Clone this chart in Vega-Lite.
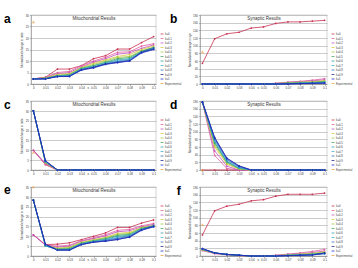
{
"$schema":"https://vega.github.io/schema/vega-lite/v6.json",
"background":"white",
"padding":{"left":4,"top":12,"right":0,"bottom":0},
"resolve":{"scale":{"color":"independent"},"legend":{"color":"independent"}},
"config":{
 "font":"Liberation Sans",
 "view":{"stroke":"#aaa","strokeWidth":0.5},
 "axis":{"labelFontSize":3,"titleFontSize":3,"tickSize":1.5,"tickWidth":0.5,"domainWidth":0.5,"domainColor":"#777","tickColor":"#777","labelColor":"#444","titleColor":"#444","gridColor":"#999","gridWidth":0.5,"labelPadding":1,"titlePadding":1.5,"titleFontWeight":"normal"},
 "axisX":{"grid":false,"labelAngle":0},
 "legend":{"labelFontSize":2.8,"symbolSize":8,"symbolType":"stroke","symbolStrokeWidth":0.8,"rowPadding":0.5,"labelOffset":1,"padding":0,"offset":3,"labelColor":"#444","orient":"none","legendX":129,"legendY":17},
 "title":{"font":"Liberation Sans"}
},
"datasets":{
"a":[
{"s":"k=0","x":0,"y":2.2},{"s":"k=0","x":0.01,"y":2.9},{"s":"k=0","x":0.02,"y":6.5},{"s":"k=0","x":0.03,"y":6.5},{"s":"k=0","x":0.04,"y":8},{"s":"k=0","x":0.05,"y":11},{"s":"k=0","x":0.06,"y":12.3},{"s":"k=0","x":0.07,"y":15.2},{"s":"k=0","x":0.08,"y":15.2},{"s":"k=0","x":0.09,"y":18},{"s":"k=0","x":0.1,"y":20.6},
{"s":"k=0.1","x":0,"y":2.2},{"s":"k=0.1","x":0.01,"y":2.9},{"s":"k=0.1","x":0.02,"y":5},{"s":"k=0.1","x":0.03,"y":5.5},{"s":"k=0.1","x":0.04,"y":8},{"s":"k=0.1","x":0.05,"y":10},{"s":"k=0.1","x":0.06,"y":11.6},{"s":"k=0.1","x":0.07,"y":13.8},{"s":"k=0.1","x":0.08,"y":14},{"s":"k=0.1","x":0.09,"y":16.5},{"s":"k=0.1","x":0.1,"y":17.5},
{"s":"k=0.2","x":0,"y":2.2},{"s":"k=0.2","x":0.01,"y":2.8},{"s":"k=0.2","x":0.02,"y":4.5},{"s":"k=0.2","x":0.03,"y":5},{"s":"k=0.2","x":0.04,"y":7.5},{"s":"k=0.2","x":0.05,"y":9.5},{"s":"k=0.2","x":0.06,"y":11},{"s":"k=0.2","x":0.07,"y":13},{"s":"k=0.2","x":0.08,"y":13.5},{"s":"k=0.2","x":0.09,"y":15.5},{"s":"k=0.2","x":0.1,"y":17},
{"s":"k=0.3","x":0,"y":2.2},{"s":"k=0.3","x":0.01,"y":2.7},{"s":"k=0.3","x":0.02,"y":4.2},{"s":"k=0.3","x":0.03,"y":4.5},{"s":"k=0.3","x":0.04,"y":7.2},{"s":"k=0.3","x":0.05,"y":9},{"s":"k=0.3","x":0.06,"y":10.5},{"s":"k=0.3","x":0.07,"y":12},{"s":"k=0.3","x":0.08,"y":12.8},{"s":"k=0.3","x":0.09,"y":15},{"s":"k=0.3","x":0.1,"y":16.5},
{"s":"k=0.4","x":0,"y":2.2},{"s":"k=0.4","x":0.01,"y":2.6},{"s":"k=0.4","x":0.02,"y":3.8},{"s":"k=0.4","x":0.03,"y":4.2},{"s":"k=0.4","x":0.04,"y":7},{"s":"k=0.4","x":0.05,"y":8.5},{"s":"k=0.4","x":0.06,"y":10},{"s":"k=0.4","x":0.07,"y":11.5},{"s":"k=0.4","x":0.08,"y":12},{"s":"k=0.4","x":0.09,"y":14.5},{"s":"k=0.4","x":0.1,"y":16},
{"s":"k=0.5","x":0,"y":2.2},{"s":"k=0.5","x":0.01,"y":2.5},{"s":"k=0.5","x":0.02,"y":3.6},{"s":"k=0.5","x":0.03,"y":4},{"s":"k=0.5","x":0.04,"y":6.8},{"s":"k=0.5","x":0.05,"y":8},{"s":"k=0.5","x":0.06,"y":9.5},{"s":"k=0.5","x":0.07,"y":11},{"s":"k=0.5","x":0.08,"y":11.5},{"s":"k=0.5","x":0.09,"y":14.2},{"s":"k=0.5","x":0.1,"y":15.8},
{"s":"k=0.6","x":0,"y":2.2},{"s":"k=0.6","x":0.01,"y":2.4},{"s":"k=0.6","x":0.02,"y":3.5},{"s":"k=0.6","x":0.03,"y":3.8},{"s":"k=0.6","x":0.04,"y":6.6},{"s":"k=0.6","x":0.05,"y":7.8},{"s":"k=0.6","x":0.06,"y":9.2},{"s":"k=0.6","x":0.07,"y":10.5},{"s":"k=0.6","x":0.08,"y":11},{"s":"k=0.6","x":0.09,"y":14},{"s":"k=0.6","x":0.1,"y":15.5},
{"s":"k=0.7","x":0,"y":2.2},{"s":"k=0.7","x":0.01,"y":2.3},{"s":"k=0.7","x":0.02,"y":3.4},{"s":"k=0.7","x":0.03,"y":3.6},{"s":"k=0.7","x":0.04,"y":6.5},{"s":"k=0.7","x":0.05,"y":7.5},{"s":"k=0.7","x":0.06,"y":9},{"s":"k=0.7","x":0.07,"y":10},{"s":"k=0.7","x":0.08,"y":10.8},{"s":"k=0.7","x":0.09,"y":13.8},{"s":"k=0.7","x":0.1,"y":15.3},
{"s":"k=0.8","x":0,"y":2.2},{"s":"k=0.8","x":0.01,"y":2.3},{"s":"k=0.8","x":0.02,"y":3.3},{"s":"k=0.8","x":0.03,"y":3.5},{"s":"k=0.8","x":0.04,"y":6.3},{"s":"k=0.8","x":0.05,"y":7.3},{"s":"k=0.8","x":0.06,"y":8.8},{"s":"k=0.8","x":0.07,"y":9.7},{"s":"k=0.8","x":0.08,"y":10.4},{"s":"k=0.8","x":0.09,"y":14},{"s":"k=0.8","x":0.1,"y":15.8},
{"s":"k=0.9","x":0,"y":2.2},{"s":"k=0.9","x":0.01,"y":2.2},{"s":"k=0.9","x":0.02,"y":3.3},{"s":"k=0.9","x":0.03,"y":3.3},{"s":"k=0.9","x":0.04,"y":6.2},{"s":"k=0.9","x":0.05,"y":7.2},{"s":"k=0.9","x":0.06,"y":8.7},{"s":"k=0.9","x":0.07,"y":9.4},{"s":"k=0.9","x":0.08,"y":10.1},{"s":"k=0.9","x":0.09,"y":13.8},{"s":"k=0.9","x":0.1,"y":15.2},
{"s":"k=1","x":0,"y":2.2},{"s":"k=1","x":0.01,"y":2.2},{"s":"k=1","x":0.02,"y":3.2},{"s":"k=1","x":0.03,"y":3.3},{"s":"k=1","x":0.04,"y":6},{"s":"k=1","x":0.05,"y":7},{"s":"k=1","x":0.06,"y":8.5},{"s":"k=1","x":0.07,"y":9.3},{"s":"k=1","x":0.08,"y":10},{"s":"k=1","x":0.09,"y":13.5},{"s":"k=1","x":0.1,"y":15},
{"s":"Experimental","x":0,"y":27}
],
"b":[
{"s":"k=0","x":0,"y":54},{"s":"k=0","x":0.01,"y":118},{"s":"k=0","x":0.02,"y":131},{"s":"k=0","x":0.03,"y":135},{"s":"k=0","x":0.04,"y":146},{"s":"k=0","x":0.05,"y":149},{"s":"k=0","x":0.06,"y":158},{"s":"k=0","x":0.07,"y":162},{"s":"k=0","x":0.08,"y":162},{"s":"k=0","x":0.09,"y":164},{"s":"k=0","x":0.1,"y":166},
{"s":"k=0.1","x":0,"y":0},{"s":"k=0.1","x":0.01,"y":0},{"s":"k=0.1","x":0.02,"y":0},{"s":"k=0.1","x":0.03,"y":0},{"s":"k=0.1","x":0.04,"y":0},{"s":"k=0.1","x":0.05,"y":0},{"s":"k=0.1","x":0.06,"y":2},{"s":"k=0.1","x":0.07,"y":5},{"s":"k=0.1","x":0.08,"y":7},{"s":"k=0.1","x":0.09,"y":10},{"s":"k=0.1","x":0.1,"y":14},
{"s":"k=0.2","x":0,"y":0},{"s":"k=0.2","x":0.01,"y":0},{"s":"k=0.2","x":0.02,"y":0},{"s":"k=0.2","x":0.03,"y":0},{"s":"k=0.2","x":0.04,"y":0},{"s":"k=0.2","x":0.05,"y":0},{"s":"k=0.2","x":0.06,"y":1.5},{"s":"k=0.2","x":0.07,"y":4},{"s":"k=0.2","x":0.08,"y":6},{"s":"k=0.2","x":0.09,"y":8},{"s":"k=0.2","x":0.1,"y":11},
{"s":"k=0.3","x":0,"y":0},{"s":"k=0.3","x":0.01,"y":0},{"s":"k=0.3","x":0.02,"y":0},{"s":"k=0.3","x":0.03,"y":0},{"s":"k=0.3","x":0.04,"y":0},{"s":"k=0.3","x":0.05,"y":0},{"s":"k=0.3","x":0.06,"y":1},{"s":"k=0.3","x":0.07,"y":3},{"s":"k=0.3","x":0.08,"y":5},{"s":"k=0.3","x":0.09,"y":6},{"s":"k=0.3","x":0.1,"y":9},
{"s":"k=0.4","x":0,"y":0},{"s":"k=0.4","x":0.01,"y":0},{"s":"k=0.4","x":0.02,"y":0},{"s":"k=0.4","x":0.03,"y":0},{"s":"k=0.4","x":0.04,"y":0},{"s":"k=0.4","x":0.05,"y":0},{"s":"k=0.4","x":0.06,"y":1},{"s":"k=0.4","x":0.07,"y":2.5},{"s":"k=0.4","x":0.08,"y":4},{"s":"k=0.4","x":0.09,"y":5},{"s":"k=0.4","x":0.1,"y":7},
{"s":"k=0.5","x":0,"y":0},{"s":"k=0.5","x":0.01,"y":0},{"s":"k=0.5","x":0.02,"y":0},{"s":"k=0.5","x":0.03,"y":0},{"s":"k=0.5","x":0.04,"y":0},{"s":"k=0.5","x":0.05,"y":0},{"s":"k=0.5","x":0.06,"y":0.5},{"s":"k=0.5","x":0.07,"y":2},{"s":"k=0.5","x":0.08,"y":3},{"s":"k=0.5","x":0.09,"y":4},{"s":"k=0.5","x":0.1,"y":6},
{"s":"k=0.6","x":0,"y":0},{"s":"k=0.6","x":0.01,"y":0},{"s":"k=0.6","x":0.02,"y":0},{"s":"k=0.6","x":0.03,"y":0},{"s":"k=0.6","x":0.04,"y":0},{"s":"k=0.6","x":0.05,"y":0},{"s":"k=0.6","x":0.06,"y":0.5},{"s":"k=0.6","x":0.07,"y":1.5},{"s":"k=0.6","x":0.08,"y":2.5},{"s":"k=0.6","x":0.09,"y":3.5},{"s":"k=0.6","x":0.1,"y":5},
{"s":"k=0.7","x":0,"y":0},{"s":"k=0.7","x":0.01,"y":0},{"s":"k=0.7","x":0.02,"y":0},{"s":"k=0.7","x":0.03,"y":0},{"s":"k=0.7","x":0.04,"y":0},{"s":"k=0.7","x":0.05,"y":0},{"s":"k=0.7","x":0.06,"y":0},{"s":"k=0.7","x":0.07,"y":1},{"s":"k=0.7","x":0.08,"y":2},{"s":"k=0.7","x":0.09,"y":3},{"s":"k=0.7","x":0.1,"y":4},
{"s":"k=0.8","x":0,"y":0},{"s":"k=0.8","x":0.01,"y":0},{"s":"k=0.8","x":0.02,"y":0},{"s":"k=0.8","x":0.03,"y":0},{"s":"k=0.8","x":0.04,"y":0},{"s":"k=0.8","x":0.05,"y":0},{"s":"k=0.8","x":0.06,"y":0},{"s":"k=0.8","x":0.07,"y":0.5},{"s":"k=0.8","x":0.08,"y":1.5},{"s":"k=0.8","x":0.09,"y":2},{"s":"k=0.8","x":0.1,"y":3},
{"s":"k=0.9","x":0,"y":0},{"s":"k=0.9","x":0.01,"y":0},{"s":"k=0.9","x":0.02,"y":0},{"s":"k=0.9","x":0.03,"y":0},{"s":"k=0.9","x":0.04,"y":0},{"s":"k=0.9","x":0.05,"y":0},{"s":"k=0.9","x":0.06,"y":0},{"s":"k=0.9","x":0.07,"y":0.5},{"s":"k=0.9","x":0.08,"y":1},{"s":"k=0.9","x":0.09,"y":2},{"s":"k=0.9","x":0.1,"y":2.5},
{"s":"k=1","x":0,"y":0},{"s":"k=1","x":0.01,"y":0},{"s":"k=1","x":0.02,"y":0},{"s":"k=1","x":0.03,"y":0},{"s":"k=1","x":0.04,"y":0},{"s":"k=1","x":0.05,"y":0},{"s":"k=1","x":0.06,"y":0},{"s":"k=1","x":0.07,"y":0},{"s":"k=1","x":0.08,"y":1},{"s":"k=1","x":0.09,"y":1.5},{"s":"k=1","x":0.1,"y":2},
{"s":"Experimental","x":0,"y":84}
],
"c":[
{"s":"k=0","x":0,"y":10},{"s":"k=0","x":0.01,"y":2.7},{"s":"k=0","x":0.02,"y":0},{"s":"k=0","x":0.03,"y":0},{"s":"k=0","x":0.04,"y":0},{"s":"k=0","x":0.05,"y":0},{"s":"k=0","x":0.06,"y":0},{"s":"k=0","x":0.07,"y":0},{"s":"k=0","x":0.08,"y":0},{"s":"k=0","x":0.09,"y":0},{"s":"k=0","x":0.1,"y":0},
{"s":"k=0.1","x":0,"y":10},{"s":"k=0.1","x":0.01,"y":3},{"s":"k=0.1","x":0.02,"y":0},{"s":"k=0.1","x":0.03,"y":0},{"s":"k=0.1","x":0.04,"y":0},{"s":"k=0.1","x":0.05,"y":0},{"s":"k=0.1","x":0.06,"y":0},{"s":"k=0.1","x":0.07,"y":0},{"s":"k=0.1","x":0.08,"y":0},{"s":"k=0.1","x":0.09,"y":0},{"s":"k=0.1","x":0.1,"y":0},
{"s":"k=0.2","x":0,"y":10},{"s":"k=0.2","x":0.01,"y":3.3},{"s":"k=0.2","x":0.02,"y":0},{"s":"k=0.2","x":0.03,"y":0},{"s":"k=0.2","x":0.04,"y":0},{"s":"k=0.2","x":0.05,"y":0},{"s":"k=0.2","x":0.06,"y":0},{"s":"k=0.2","x":0.07,"y":0},{"s":"k=0.2","x":0.08,"y":0},{"s":"k=0.2","x":0.09,"y":0},{"s":"k=0.2","x":0.1,"y":0},
{"s":"k=0.3","x":0,"y":30},{"s":"k=0.3","x":0.01,"y":3.6},{"s":"k=0.3","x":0.02,"y":0},{"s":"k=0.3","x":0.03,"y":0},{"s":"k=0.3","x":0.04,"y":0},{"s":"k=0.3","x":0.05,"y":0},{"s":"k=0.3","x":0.06,"y":0},{"s":"k=0.3","x":0.07,"y":0},{"s":"k=0.3","x":0.08,"y":0},{"s":"k=0.3","x":0.09,"y":0},{"s":"k=0.3","x":0.1,"y":0},
{"s":"k=0.4","x":0,"y":30},{"s":"k=0.4","x":0.01,"y":3.8},{"s":"k=0.4","x":0.02,"y":0},{"s":"k=0.4","x":0.03,"y":0},{"s":"k=0.4","x":0.04,"y":0},{"s":"k=0.4","x":0.05,"y":0},{"s":"k=0.4","x":0.06,"y":0},{"s":"k=0.4","x":0.07,"y":0},{"s":"k=0.4","x":0.08,"y":0},{"s":"k=0.4","x":0.09,"y":0},{"s":"k=0.4","x":0.1,"y":0},
{"s":"k=0.5","x":0,"y":30},{"s":"k=0.5","x":0.01,"y":4},{"s":"k=0.5","x":0.02,"y":0},{"s":"k=0.5","x":0.03,"y":0},{"s":"k=0.5","x":0.04,"y":0},{"s":"k=0.5","x":0.05,"y":0},{"s":"k=0.5","x":0.06,"y":0},{"s":"k=0.5","x":0.07,"y":0},{"s":"k=0.5","x":0.08,"y":0},{"s":"k=0.5","x":0.09,"y":0},{"s":"k=0.5","x":0.1,"y":0},
{"s":"k=0.6","x":0,"y":30},{"s":"k=0.6","x":0.01,"y":4.1},{"s":"k=0.6","x":0.02,"y":0},{"s":"k=0.6","x":0.03,"y":0},{"s":"k=0.6","x":0.04,"y":0},{"s":"k=0.6","x":0.05,"y":0},{"s":"k=0.6","x":0.06,"y":0},{"s":"k=0.6","x":0.07,"y":0},{"s":"k=0.6","x":0.08,"y":0},{"s":"k=0.6","x":0.09,"y":0},{"s":"k=0.6","x":0.1,"y":0},
{"s":"k=0.7","x":0,"y":30},{"s":"k=0.7","x":0.01,"y":4.3},{"s":"k=0.7","x":0.02,"y":0},{"s":"k=0.7","x":0.03,"y":0},{"s":"k=0.7","x":0.04,"y":0},{"s":"k=0.7","x":0.05,"y":0},{"s":"k=0.7","x":0.06,"y":0},{"s":"k=0.7","x":0.07,"y":0},{"s":"k=0.7","x":0.08,"y":0},{"s":"k=0.7","x":0.09,"y":0},{"s":"k=0.7","x":0.1,"y":0},
{"s":"k=0.8","x":0,"y":30},{"s":"k=0.8","x":0.01,"y":4.5},{"s":"k=0.8","x":0.02,"y":0},{"s":"k=0.8","x":0.03,"y":0},{"s":"k=0.8","x":0.04,"y":0},{"s":"k=0.8","x":0.05,"y":0},{"s":"k=0.8","x":0.06,"y":0},{"s":"k=0.8","x":0.07,"y":0},{"s":"k=0.8","x":0.08,"y":0},{"s":"k=0.8","x":0.09,"y":0},{"s":"k=0.8","x":0.1,"y":0},
{"s":"k=0.9","x":0,"y":30},{"s":"k=0.9","x":0.01,"y":4.7},{"s":"k=0.9","x":0.02,"y":0},{"s":"k=0.9","x":0.03,"y":0},{"s":"k=0.9","x":0.04,"y":0},{"s":"k=0.9","x":0.05,"y":0},{"s":"k=0.9","x":0.06,"y":0},{"s":"k=0.9","x":0.07,"y":0},{"s":"k=0.9","x":0.08,"y":0},{"s":"k=0.9","x":0.09,"y":0},{"s":"k=0.9","x":0.1,"y":0},
{"s":"k=1","x":0,"y":30},{"s":"k=1","x":0.01,"y":4.6},{"s":"k=1","x":0.02,"y":0},{"s":"k=1","x":0.03,"y":0},{"s":"k=1","x":0.04,"y":0},{"s":"k=1","x":0.05,"y":0},{"s":"k=1","x":0.06,"y":0},{"s":"k=1","x":0.07,"y":0},{"s":"k=1","x":0.08,"y":0},{"s":"k=1","x":0.09,"y":0},{"s":"k=1","x":0.1,"y":0},
{"s":"Experimental","x":0,"y":9}
],
"d":[
{"s":"k=0","x":0,"y":0},{"s":"k=0","x":0.01,"y":0},{"s":"k=0","x":0.02,"y":0},{"s":"k=0","x":0.03,"y":0},{"s":"k=0","x":0.04,"y":0},{"s":"k=0","x":0.05,"y":0},{"s":"k=0","x":0.06,"y":0},{"s":"k=0","x":0.07,"y":0},{"s":"k=0","x":0.08,"y":0},{"s":"k=0","x":0.09,"y":0},{"s":"k=0","x":0.1,"y":0},
{"s":"k=0.1","x":0,"y":177},{"s":"k=0.1","x":0.01,"y":38},{"s":"k=0.1","x":0.02,"y":4},{"s":"k=0.1","x":0.03,"y":0},{"s":"k=0.1","x":0.04,"y":0},{"s":"k=0.1","x":0.05,"y":0},{"s":"k=0.1","x":0.06,"y":0},{"s":"k=0.1","x":0.07,"y":0},{"s":"k=0.1","x":0.08,"y":0},{"s":"k=0.1","x":0.09,"y":0},{"s":"k=0.1","x":0.1,"y":0},
{"s":"k=0.2","x":0,"y":177},{"s":"k=0.2","x":0.01,"y":50},{"s":"k=0.2","x":0.02,"y":10},{"s":"k=0.2","x":0.03,"y":0},{"s":"k=0.2","x":0.04,"y":0},{"s":"k=0.2","x":0.05,"y":0},{"s":"k=0.2","x":0.06,"y":0},{"s":"k=0.2","x":0.07,"y":0},{"s":"k=0.2","x":0.08,"y":0},{"s":"k=0.2","x":0.09,"y":0},{"s":"k=0.2","x":0.1,"y":0},
{"s":"k=0.3","x":0,"y":177},{"s":"k=0.3","x":0.01,"y":60},{"s":"k=0.3","x":0.02,"y":15},{"s":"k=0.3","x":0.03,"y":2},{"s":"k=0.3","x":0.04,"y":0},{"s":"k=0.3","x":0.05,"y":0},{"s":"k=0.3","x":0.06,"y":0},{"s":"k=0.3","x":0.07,"y":0},{"s":"k=0.3","x":0.08,"y":0},{"s":"k=0.3","x":0.09,"y":0},{"s":"k=0.3","x":0.1,"y":0},
{"s":"k=0.4","x":0,"y":177},{"s":"k=0.4","x":0.01,"y":65},{"s":"k=0.4","x":0.02,"y":18},{"s":"k=0.4","x":0.03,"y":3},{"s":"k=0.4","x":0.04,"y":0},{"s":"k=0.4","x":0.05,"y":0},{"s":"k=0.4","x":0.06,"y":0},{"s":"k=0.4","x":0.07,"y":0},{"s":"k=0.4","x":0.08,"y":0},{"s":"k=0.4","x":0.09,"y":0},{"s":"k=0.4","x":0.1,"y":0},
{"s":"k=0.5","x":0,"y":177},{"s":"k=0.5","x":0.01,"y":70},{"s":"k=0.5","x":0.02,"y":20},{"s":"k=0.5","x":0.03,"y":4},{"s":"k=0.5","x":0.04,"y":0},{"s":"k=0.5","x":0.05,"y":0},{"s":"k=0.5","x":0.06,"y":0},{"s":"k=0.5","x":0.07,"y":0},{"s":"k=0.5","x":0.08,"y":0},{"s":"k=0.5","x":0.09,"y":0},{"s":"k=0.5","x":0.1,"y":0},
{"s":"k=0.6","x":0,"y":177},{"s":"k=0.6","x":0.01,"y":73},{"s":"k=0.6","x":0.02,"y":22},{"s":"k=0.6","x":0.03,"y":5},{"s":"k=0.6","x":0.04,"y":0},{"s":"k=0.6","x":0.05,"y":0},{"s":"k=0.6","x":0.06,"y":0},{"s":"k=0.6","x":0.07,"y":0},{"s":"k=0.6","x":0.08,"y":0},{"s":"k=0.6","x":0.09,"y":0},{"s":"k=0.6","x":0.1,"y":0},
{"s":"k=0.7","x":0,"y":177},{"s":"k=0.7","x":0.01,"y":76},{"s":"k=0.7","x":0.02,"y":24},{"s":"k=0.7","x":0.03,"y":6},{"s":"k=0.7","x":0.04,"y":0},{"s":"k=0.7","x":0.05,"y":0},{"s":"k=0.7","x":0.06,"y":0},{"s":"k=0.7","x":0.07,"y":0},{"s":"k=0.7","x":0.08,"y":0},{"s":"k=0.7","x":0.09,"y":0},{"s":"k=0.7","x":0.1,"y":0},
{"s":"k=0.8","x":0,"y":177},{"s":"k=0.8","x":0.01,"y":80},{"s":"k=0.8","x":0.02,"y":27},{"s":"k=0.8","x":0.03,"y":8},{"s":"k=0.8","x":0.04,"y":0},{"s":"k=0.8","x":0.05,"y":0},{"s":"k=0.8","x":0.06,"y":0},{"s":"k=0.8","x":0.07,"y":0},{"s":"k=0.8","x":0.08,"y":0},{"s":"k=0.8","x":0.09,"y":0},{"s":"k=0.8","x":0.1,"y":0},
{"s":"k=0.9","x":0,"y":177},{"s":"k=0.9","x":0.01,"y":85},{"s":"k=0.9","x":0.02,"y":31},{"s":"k=0.9","x":0.03,"y":11},{"s":"k=0.9","x":0.04,"y":0},{"s":"k=0.9","x":0.05,"y":0},{"s":"k=0.9","x":0.06,"y":0},{"s":"k=0.9","x":0.07,"y":0},{"s":"k=0.9","x":0.08,"y":0},{"s":"k=0.9","x":0.09,"y":0},{"s":"k=0.9","x":0.1,"y":0},
{"s":"k=1","x":0,"y":177},{"s":"k=1","x":0.01,"y":83},{"s":"k=1","x":0.02,"y":30},{"s":"k=1","x":0.03,"y":10},{"s":"k=1","x":0.04,"y":0},{"s":"k=1","x":0.05,"y":0},{"s":"k=1","x":0.06,"y":0},{"s":"k=1","x":0.07,"y":0},{"s":"k=1","x":0.08,"y":0},{"s":"k=1","x":0.09,"y":0},{"s":"k=1","x":0.1,"y":0},
{"s":"Experimental","x":0,"y":0}
],
"e":[
{"s":"k=0","x":0,"y":10.7},{"s":"k=0","x":0.01,"y":5.8},{"s":"k=0","x":0.02,"y":6},{"s":"k=0","x":0.03,"y":6.7},{"s":"k=0","x":0.04,"y":8.3},{"s":"k=0","x":0.05,"y":10},{"s":"k=0","x":0.06,"y":11.7},{"s":"k=0","x":0.07,"y":14.5},{"s":"k=0","x":0.08,"y":14.5},{"s":"k=0","x":0.09,"y":16.7},{"s":"k=0","x":0.1,"y":18.3},
{"s":"k=0.1","x":0,"y":10.7},{"s":"k=0.1","x":0.01,"y":5.6},{"s":"k=0.1","x":0.02,"y":5},{"s":"k=0.1","x":0.03,"y":5.5},{"s":"k=0.1","x":0.04,"y":7.8},{"s":"k=0.1","x":0.05,"y":9.2},{"s":"k=0.1","x":0.06,"y":10.8},{"s":"k=0.1","x":0.07,"y":13},{"s":"k=0.1","x":0.08,"y":13.5},{"s":"k=0.1","x":0.09,"y":15.3},{"s":"k=0.1","x":0.1,"y":16.5},
{"s":"k=0.2","x":0,"y":10.7},{"s":"k=0.2","x":0.01,"y":5.5},{"s":"k=0.2","x":0.02,"y":4.5},{"s":"k=0.2","x":0.03,"y":5},{"s":"k=0.2","x":0.04,"y":7.5},{"s":"k=0.2","x":0.05,"y":8.8},{"s":"k=0.2","x":0.06,"y":10.2},{"s":"k=0.2","x":0.07,"y":12.3},{"s":"k=0.2","x":0.08,"y":12.8},{"s":"k=0.2","x":0.09,"y":14.8},{"s":"k=0.2","x":0.1,"y":16},
{"s":"k=0.3","x":0,"y":28.3},{"s":"k=0.3","x":0.01,"y":5.4},{"s":"k=0.3","x":0.02,"y":4},{"s":"k=0.3","x":0.03,"y":4.5},{"s":"k=0.3","x":0.04,"y":7},{"s":"k=0.3","x":0.05,"y":8.3},{"s":"k=0.3","x":0.06,"y":9.5},{"s":"k=0.3","x":0.07,"y":11.5},{"s":"k=0.3","x":0.08,"y":12},{"s":"k=0.3","x":0.09,"y":14.5},{"s":"k=0.3","x":0.1,"y":15.5},
{"s":"k=0.4","x":0,"y":28.3},{"s":"k=0.4","x":0.01,"y":5.3},{"s":"k=0.4","x":0.02,"y":3.7},{"s":"k=0.4","x":0.03,"y":4.2},{"s":"k=0.4","x":0.04,"y":6.7},{"s":"k=0.4","x":0.05,"y":8},{"s":"k=0.4","x":0.06,"y":9.2},{"s":"k=0.4","x":0.07,"y":11},{"s":"k=0.4","x":0.08,"y":11.5},{"s":"k=0.4","x":0.09,"y":14.2},{"s":"k=0.4","x":0.1,"y":15.3},
{"s":"k=0.5","x":0,"y":28.3},{"s":"k=0.5","x":0.01,"y":5.2},{"s":"k=0.5","x":0.02,"y":3.5},{"s":"k=0.5","x":0.03,"y":3.8},{"s":"k=0.5","x":0.04,"y":6.5},{"s":"k=0.5","x":0.05,"y":7.7},{"s":"k=0.5","x":0.06,"y":8.8},{"s":"k=0.5","x":0.07,"y":10.5},{"s":"k=0.5","x":0.08,"y":11},{"s":"k=0.5","x":0.09,"y":14},{"s":"k=0.5","x":0.1,"y":15.2},
{"s":"k=0.6","x":0,"y":28.3},{"s":"k=0.6","x":0.01,"y":5.2},{"s":"k=0.6","x":0.02,"y":3.3},{"s":"k=0.6","x":0.03,"y":3.5},{"s":"k=0.6","x":0.04,"y":6.3},{"s":"k=0.6","x":0.05,"y":7.5},{"s":"k=0.6","x":0.06,"y":8.5},{"s":"k=0.6","x":0.07,"y":10},{"s":"k=0.6","x":0.08,"y":10.6},{"s":"k=0.6","x":0.09,"y":13.8},{"s":"k=0.6","x":0.1,"y":15},
{"s":"k=0.7","x":0,"y":28.3},{"s":"k=0.7","x":0.01,"y":5.1},{"s":"k=0.7","x":0.02,"y":3.2},{"s":"k=0.7","x":0.03,"y":3.3},{"s":"k=0.7","x":0.04,"y":6.1},{"s":"k=0.7","x":0.05,"y":7.3},{"s":"k=0.7","x":0.06,"y":8.2},{"s":"k=0.7","x":0.07,"y":9.5},{"s":"k=0.7","x":0.08,"y":10.3},{"s":"k=0.7","x":0.09,"y":13.6},{"s":"k=0.7","x":0.1,"y":15},
{"s":"k=0.8","x":0,"y":28.3},{"s":"k=0.8","x":0.01,"y":5.5},{"s":"k=0.8","x":0.02,"y":3.1},{"s":"k=0.8","x":0.03,"y":3.1},{"s":"k=0.8","x":0.04,"y":6},{"s":"k=0.8","x":0.05,"y":7.1},{"s":"k=0.8","x":0.06,"y":8},{"s":"k=0.8","x":0.07,"y":9},{"s":"k=0.8","x":0.08,"y":10},{"s":"k=0.8","x":0.09,"y":13.4},{"s":"k=0.8","x":0.1,"y":15.5},
{"s":"k=0.9","x":0,"y":28.3},{"s":"k=0.9","x":0.01,"y":6},{"s":"k=0.9","x":0.02,"y":3},{"s":"k=0.9","x":0.03,"y":3},{"s":"k=0.9","x":0.04,"y":5.8},{"s":"k=0.9","x":0.05,"y":7},{"s":"k=0.9","x":0.06,"y":7.5},{"s":"k=0.9","x":0.07,"y":8.3},{"s":"k=0.9","x":0.08,"y":9.7},{"s":"k=0.9","x":0.09,"y":13.3},{"s":"k=0.9","x":0.1,"y":15},
{"s":"k=1","x":0,"y":28.3},{"s":"k=1","x":0.01,"y":5.8},{"s":"k=1","x":0.02,"y":3},{"s":"k=1","x":0.03,"y":3},{"s":"k=1","x":0.04,"y":5.8},{"s":"k=1","x":0.05,"y":7},{"s":"k=1","x":0.06,"y":7.6},{"s":"k=1","x":0.07,"y":8.5},{"s":"k=1","x":0.08,"y":9.5},{"s":"k=1","x":0.09,"y":13},{"s":"k=1","x":0.1,"y":14.8},
{"s":"Experimental","x":0,"y":35}
],
"f":[
{"s":"k=0","x":0,"y":55},{"s":"k=0","x":0.01,"y":118},{"s":"k=0","x":0.02,"y":130},{"s":"k=0","x":0.03,"y":135},{"s":"k=0","x":0.04,"y":144},{"s":"k=0","x":0.05,"y":147},{"s":"k=0","x":0.06,"y":156},{"s":"k=0","x":0.07,"y":161},{"s":"k=0","x":0.08,"y":161},{"s":"k=0","x":0.09,"y":161},{"s":"k=0","x":0.1,"y":164},
{"s":"k=0.1","x":0,"y":14},{"s":"k=0.1","x":0.01,"y":6},{"s":"k=0.1","x":0.02,"y":3},{"s":"k=0.1","x":0.03,"y":1},{"s":"k=0.1","x":0.04,"y":0},{"s":"k=0.1","x":0.05,"y":0},{"s":"k=0.1","x":0.06,"y":2},{"s":"k=0.1","x":0.07,"y":5},{"s":"k=0.1","x":0.08,"y":8},{"s":"k=0.1","x":0.09,"y":12},{"s":"k=0.1","x":0.1,"y":17},
{"s":"k=0.2","x":0,"y":15},{"s":"k=0.2","x":0.01,"y":7},{"s":"k=0.2","x":0.02,"y":3.5},{"s":"k=0.2","x":0.03,"y":1.2},{"s":"k=0.2","x":0.04,"y":0},{"s":"k=0.2","x":0.05,"y":0},{"s":"k=0.2","x":0.06,"y":1.5},{"s":"k=0.2","x":0.07,"y":4},{"s":"k=0.2","x":0.08,"y":6},{"s":"k=0.2","x":0.09,"y":9},{"s":"k=0.2","x":0.1,"y":13},
{"s":"k=0.3","x":0,"y":16},{"s":"k=0.3","x":0.01,"y":7.5},{"s":"k=0.3","x":0.02,"y":4},{"s":"k=0.3","x":0.03,"y":1.5},{"s":"k=0.3","x":0.04,"y":0},{"s":"k=0.3","x":0.05,"y":0},{"s":"k=0.3","x":0.06,"y":1},{"s":"k=0.3","x":0.07,"y":3},{"s":"k=0.3","x":0.08,"y":5},{"s":"k=0.3","x":0.09,"y":7},{"s":"k=0.3","x":0.1,"y":11},
{"s":"k=0.4","x":0,"y":16.5},{"s":"k=0.4","x":0.01,"y":7.5},{"s":"k=0.4","x":0.02,"y":4},{"s":"k=0.4","x":0.03,"y":1.5},{"s":"k=0.4","x":0.04,"y":0},{"s":"k=0.4","x":0.05,"y":0},{"s":"k=0.4","x":0.06,"y":1},{"s":"k=0.4","x":0.07,"y":2.5},{"s":"k=0.4","x":0.08,"y":4},{"s":"k=0.4","x":0.09,"y":6},{"s":"k=0.4","x":0.1,"y":9},
{"s":"k=0.5","x":0,"y":17},{"s":"k=0.5","x":0.01,"y":8},{"s":"k=0.5","x":0.02,"y":4},{"s":"k=0.5","x":0.03,"y":2},{"s":"k=0.5","x":0.04,"y":0},{"s":"k=0.5","x":0.05,"y":0},{"s":"k=0.5","x":0.06,"y":0.5},{"s":"k=0.5","x":0.07,"y":2},{"s":"k=0.5","x":0.08,"y":3},{"s":"k=0.5","x":0.09,"y":5},{"s":"k=0.5","x":0.1,"y":8},
{"s":"k=0.6","x":0,"y":17.5},{"s":"k=0.6","x":0.01,"y":8},{"s":"k=0.6","x":0.02,"y":4},{"s":"k=0.6","x":0.03,"y":2},{"s":"k=0.6","x":0.04,"y":0},{"s":"k=0.6","x":0.05,"y":0},{"s":"k=0.6","x":0.06,"y":0.5},{"s":"k=0.6","x":0.07,"y":1.5},{"s":"k=0.6","x":0.08,"y":3},{"s":"k=0.6","x":0.09,"y":4},{"s":"k=0.6","x":0.1,"y":7},
{"s":"k=0.7","x":0,"y":18},{"s":"k=0.7","x":0.01,"y":8},{"s":"k=0.7","x":0.02,"y":4},{"s":"k=0.7","x":0.03,"y":2},{"s":"k=0.7","x":0.04,"y":0},{"s":"k=0.7","x":0.05,"y":0},{"s":"k=0.7","x":0.06,"y":0.5},{"s":"k=0.7","x":0.07,"y":1.5},{"s":"k=0.7","x":0.08,"y":2.5},{"s":"k=0.7","x":0.09,"y":4},{"s":"k=0.7","x":0.1,"y":6},
{"s":"k=0.8","x":0,"y":18.5},{"s":"k=0.8","x":0.01,"y":8},{"s":"k=0.8","x":0.02,"y":4},{"s":"k=0.8","x":0.03,"y":2},{"s":"k=0.8","x":0.04,"y":0},{"s":"k=0.8","x":0.05,"y":0},{"s":"k=0.8","x":0.06,"y":0.3},{"s":"k=0.8","x":0.07,"y":1},{"s":"k=0.8","x":0.08,"y":2},{"s":"k=0.8","x":0.09,"y":3},{"s":"k=0.8","x":0.1,"y":6},
{"s":"k=0.9","x":0,"y":19},{"s":"k=0.9","x":0.01,"y":8},{"s":"k=0.9","x":0.02,"y":4},{"s":"k=0.9","x":0.03,"y":2},{"s":"k=0.9","x":0.04,"y":0},{"s":"k=0.9","x":0.05,"y":0},{"s":"k=0.9","x":0.06,"y":0},{"s":"k=0.9","x":0.07,"y":1},{"s":"k=0.9","x":0.08,"y":2},{"s":"k=0.9","x":0.09,"y":3},{"s":"k=0.9","x":0.1,"y":8},
{"s":"k=1","x":0,"y":19},{"s":"k=1","x":0.01,"y":8.5},{"s":"k=1","x":0.02,"y":4},{"s":"k=1","x":0.03,"y":2},{"s":"k=1","x":0.04,"y":0},{"s":"k=1","x":0.05,"y":0},{"s":"k=1","x":0.06,"y":0},{"s":"k=1","x":0.07,"y":1},{"s":"k=1","x":0.08,"y":1.5},{"s":"k=1","x":0.09,"y":2.5},{"s":"k=1","x":0.1,"y":7},
{"s":"Experimental","x":0,"y":82}
]
},
"columns":2,
"spacing":{"row":8,"column":-13},
"concat":[
 {"title":{"text":"a","orient":"left","angle":0,"anchor":"end","fontSize":12,"fontWeight":"bold","offset":3,"baseline":"top"},
  "resolve":{"scale":{"color":"independent"},"legend":{"color":"independent"}},
  "hconcat":[{"width":125,"height":69,"data":{"name":"a"},
   "encoding":{
    "y":{"field":"y","type":"quantitative","scale":{"domain":[0,30]},"axis":{"values":[0,5,10,15,20,25,30],"title":"Normalized change in mito"}},
    "color":{"field":"s","type":"nominal","scale":{"domain":["k=0","k=0.1","k=0.2","k=0.3","k=0.4","k=0.5","k=0.6","k=0.7","k=0.8","k=0.9","k=1","Experimental"],"range":["#c83050","#e060a0","#c050c0","#d8c840","#a0c840","#40a860","#30a0a0","#40b0d0","#3070c0","#202890","#2030c8","#f0a040"]},"legend":{"title":null}}},
   "resolve":{"axis":{"x":"independent"}},
   "layer":[
    {"transform":[{"filter":"datum.s!='Experimental'"}],"mark":{"type":"line","strokeWidth":0.8,"point":{"size":3,"filled":true}},
     "encoding":{"x":{"field":"x","type":"ordinal","scale":{"type":"point","padding":0.2},"axis":{"title":"ε","titleFontSize":4,"titlePadding":-4.5,"titleX":57}}}},
    {"transform":[{"filter":"datum.s=='Experimental'"}],"mark":{"type":"point","shape":"triangle-up","filled":true,"size":10},
     "encoding":{"x":{"field":"x","type":"ordinal","axis":{"orient":"top","title":"Mitochondrial Results","labels":false,"ticks":false,"domain":false,"titleFontSize":4.5,"titlePadding":-5.5,"titleColor":"#333"}}}}
   ]}]},
 {"title":{"text":"b","orient":"left","angle":0,"anchor":"end","fontSize":12,"fontWeight":"bold","offset":3,"baseline":"top"},
  "resolve":{"scale":{"color":"independent"},"legend":{"color":"independent"}},
  "hconcat":[{"width":127,"height":69,"data":{"name":"b"},
   "encoding":{
    "y":{"field":"y","type":"quantitative","scale":{"domain":[0,180]},"axis":{"values":[0,20,40,60,80,100,120,140,160,180],"title":"Normalized change in syn"}},
    "color":{"field":"s","type":"nominal","scale":{"domain":["k=0","k=0.1","k=0.2","k=0.3","k=0.4","k=0.5","k=0.6","k=0.7","k=0.8","k=0.9","k=1","Experimental"],"range":["#c83050","#e060a0","#c050c0","#d8c840","#a0c840","#40a860","#30a0a0","#40b0d0","#3070c0","#202890","#2030c8","#f0a040"]},"legend":{"title":null,"legendX":131}}},
   "resolve":{"axis":{"x":"independent"}},
   "layer":[
    {"transform":[{"filter":"datum.s!='Experimental'"}],"mark":{"type":"line","strokeWidth":0.8,"point":{"size":3,"filled":true}},
     "encoding":{"x":{"field":"x","type":"ordinal","scale":{"type":"point","padding":0.2},"axis":{"title":"ε","titleFontSize":4,"titlePadding":-4.5,"titleX":58}}}},
    {"transform":[{"filter":"datum.s=='Experimental'"}],"mark":{"type":"point","shape":"triangle-up","filled":true,"size":10},
     "encoding":{"x":{"field":"x","type":"ordinal","axis":{"orient":"top","title":"Synaptic Results","labels":false,"ticks":false,"domain":false,"titleFontSize":4.5,"titlePadding":-5.5,"titleColor":"#333"}}}}
   ]}]},
 {"title":{"text":"c","orient":"left","angle":0,"anchor":"end","fontSize":12,"fontWeight":"bold","offset":3,"baseline":"top"},
  "resolve":{"scale":{"color":"independent"},"legend":{"color":"independent"}},
  "hconcat":[{"width":125,"height":69,"data":{"name":"c"},
   "encoding":{
    "y":{"field":"y","type":"quantitative","scale":{"domain":[0,35]},"axis":{"values":[0,5,10,15,20,25,30,35],"title":"Normalized change in mito"}},
    "color":{"field":"s","type":"nominal","scale":{"domain":["k=0","k=0.1","k=0.2","k=0.3","k=0.4","k=0.5","k=0.6","k=0.7","k=0.8","k=0.9","k=1","Experimental"],"range":["#c83050","#e060a0","#c050c0","#d8c840","#a0c840","#40a860","#30a0a0","#40b0d0","#3070c0","#202890","#2030c8","#f0a040"]},"legend":{"title":null}}},
   "resolve":{"axis":{"x":"independent"}},
   "layer":[
    {"transform":[{"filter":"datum.s!='Experimental'"}],"mark":{"type":"line","strokeWidth":0.8,"point":{"size":3,"filled":true}},
     "encoding":{"x":{"field":"x","type":"ordinal","scale":{"type":"point","padding":0.2},"axis":{"title":"ε","titleFontSize":4,"titlePadding":-4.5,"titleX":57}}}},
    {"transform":[{"filter":"datum.s=='Experimental'"}],"mark":{"type":"point","shape":"triangle-up","filled":true,"size":10},
     "encoding":{"x":{"field":"x","type":"ordinal","axis":{"orient":"top","title":"Mitochondrial Results","labels":false,"ticks":false,"domain":false,"titleFontSize":4.5,"titlePadding":-5.5,"titleColor":"#333"}}}}
   ]}]},
 {"title":{"text":"d","orient":"left","angle":0,"anchor":"end","fontSize":12,"fontWeight":"bold","offset":3,"baseline":"top"},
  "resolve":{"scale":{"color":"independent"},"legend":{"color":"independent"}},
  "hconcat":[{"width":127,"height":69,"data":{"name":"d"},
   "encoding":{
    "y":{"field":"y","type":"quantitative","scale":{"domain":[0,180]},"axis":{"values":[0,20,40,60,80,100,120,140,160,180],"title":"Normalized change in syn"}},
    "color":{"field":"s","type":"nominal","scale":{"domain":["k=0","k=0.1","k=0.2","k=0.3","k=0.4","k=0.5","k=0.6","k=0.7","k=0.8","k=0.9","k=1","Experimental"],"range":["#c83050","#e060a0","#c050c0","#d8c840","#a0c840","#40a860","#30a0a0","#40b0d0","#3070c0","#202890","#2030c8","#f0a040"]},"legend":{"title":null,"legendX":131}}},
   "resolve":{"axis":{"x":"independent"}},
   "layer":[
    {"transform":[{"filter":"datum.s!='Experimental'"}],"mark":{"type":"line","strokeWidth":0.8,"point":{"size":3,"filled":true}},
     "encoding":{"x":{"field":"x","type":"ordinal","scale":{"type":"point","padding":0.2},"axis":{"title":"ε","titleFontSize":4,"titlePadding":-4.5,"titleX":58}}}},
    {"transform":[{"filter":"datum.s=='Experimental'"}],"mark":{"type":"point","shape":"triangle-up","filled":true,"size":10},
     "encoding":{"x":{"field":"x","type":"ordinal","axis":{"orient":"top","title":"Synaptic Results","labels":false,"ticks":false,"domain":false,"titleFontSize":4.5,"titlePadding":-5.5,"titleColor":"#333"}}}}
   ]}]},
 {"title":{"text":"e","orient":"left","angle":0,"anchor":"end","fontSize":12,"fontWeight":"bold","offset":3,"baseline":"top"},
  "resolve":{"scale":{"color":"independent"},"legend":{"color":"independent"}},
  "hconcat":[{"width":125,"height":69,"data":{"name":"e"},
   "encoding":{
    "y":{"field":"y","type":"quantitative","scale":{"domain":[0,35]},"axis":{"values":[0,5,10,15,20,25,30,35],"title":"Normalized change in mito"}},
    "color":{"field":"s","type":"nominal","scale":{"domain":["k=0","k=0.1","k=0.2","k=0.3","k=0.4","k=0.5","k=0.6","k=0.7","k=0.8","k=0.9","k=1","Experimental"],"range":["#c83050","#e060a0","#c050c0","#d8c840","#a0c840","#40a860","#30a0a0","#40b0d0","#3070c0","#202890","#2030c8","#f0a040"]},"legend":{"title":null}}},
   "resolve":{"axis":{"x":"independent"}},
   "layer":[
    {"transform":[{"filter":"datum.s!='Experimental'"}],"mark":{"type":"line","strokeWidth":0.8,"point":{"size":3,"filled":true}},
     "encoding":{"x":{"field":"x","type":"ordinal","scale":{"type":"point","padding":0.2},"axis":{"title":"ε","titleFontSize":4,"titlePadding":-4.5,"titleX":57}}}},
    {"transform":[{"filter":"datum.s=='Experimental'"}],"mark":{"type":"point","shape":"triangle-up","filled":true,"size":10},
     "encoding":{"x":{"field":"x","type":"ordinal","axis":{"orient":"top","title":"Mitochondrial Results","labels":false,"ticks":false,"domain":false,"titleFontSize":4.5,"titlePadding":-5.5,"titleColor":"#333"}}}}
   ]}]},
 {"title":{"text":"f","orient":"left","angle":0,"anchor":"end","fontSize":12,"fontWeight":"bold","offset":3,"baseline":"top"},
  "resolve":{"scale":{"color":"independent"},"legend":{"color":"independent"}},
  "hconcat":[{"width":127,"height":69,"data":{"name":"f"},
   "encoding":{
    "y":{"field":"y","type":"quantitative","scale":{"domain":[0,180]},"axis":{"values":[0,20,40,60,80,100,120,140,160,180],"title":"Normalized change in syn"}},
    "color":{"field":"s","type":"nominal","scale":{"domain":["k=0","k=0.1","k=0.2","k=0.3","k=0.4","k=0.5","k=0.6","k=0.7","k=0.8","k=0.9","k=1","Experimental"],"range":["#c83050","#e060a0","#c050c0","#d8c840","#a0c840","#40a860","#30a0a0","#40b0d0","#3070c0","#202890","#2030c8","#f0a040"]},"legend":{"title":null,"legendX":131}}},
   "resolve":{"axis":{"x":"independent"}},
   "layer":[
    {"transform":[{"filter":"datum.s!='Experimental'"}],"mark":{"type":"line","strokeWidth":0.8,"point":{"size":3,"filled":true}},
     "encoding":{"x":{"field":"x","type":"ordinal","scale":{"type":"point","padding":0.2},"axis":{"title":"ε","titleFontSize":4,"titlePadding":-4.5,"titleX":58}}}},
    {"transform":[{"filter":"datum.s=='Experimental'"}],"mark":{"type":"point","shape":"triangle-up","filled":true,"size":10},
     "encoding":{"x":{"field":"x","type":"ordinal","axis":{"orient":"top","title":"Synaptic Results","labels":false,"ticks":false,"domain":false,"titleFontSize":4.5,"titlePadding":-5.5,"titleColor":"#333"}}}}
   ]}]}
]
}
